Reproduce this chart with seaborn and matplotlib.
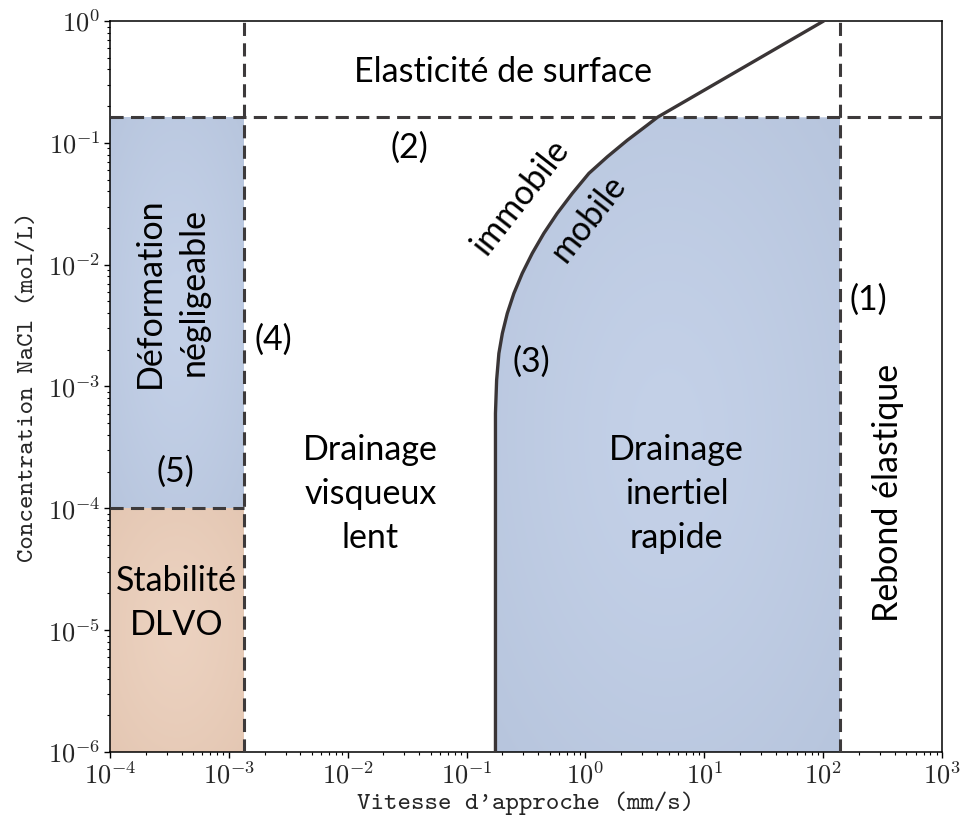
import numpy as np
import matplotlib
matplotlib.use("Agg")
import matplotlib.pyplot as plt
from matplotlib.patches import Polygon
from matplotlib.ticker import FixedLocator, FuncFormatter, NullFormatter
import seaborn as sns
import pandas as pd

# Regime boundaries (speed in mm/s, concentration in mol/L)
x_min, x_max = 1e-4, 1e3
y_min, y_max = 1e-6, 1e0
speed_low = 1.33e-3          # (4) negligible deformation limit
speed_high = 139.0           # (1) elastic rebound limit
conc_surface = 0.162         # (2) surface elasticity limit
conc_dlvo = 1e-4             # (5) DLVO stability limit

# (3) mobile / immobile interface boundary
boundary_speed = [0.175, 0.175, 0.179, 0.187, 0.200, 0.220, 0.250, 0.294, 0.357, 0.447,
                  0.579, 0.776, 1.07, 1.53, 2.25, 3.32, 4.03, 101.0]
boundary_conc = [1e-6, 6.0e-4, 1.13e-3, 1.87e-3, 2.73e-3, 3.98e-3, 5.81e-3, 8.49e-3, 1.24e-2, 1.81e-2,
                 2.64e-2, 3.85e-2, 5.62e-2, 7.69e-2, 0.105, 0.140, 0.162, 1.0]

# Decade ticks
x_decades = [-4, -3, -2, -1, 0, 1, 2, 3]
y_decades = [-6, -5, -4, -3, -2, -1, 0]

region_labels = {
    "surface": "Elasticité de surface",
    "deform": "Déformation\nnégligeable",
    "slow": "Drainage\nvisqueux\nlent",
    "fast": "Drainage\ninertiel\nrapide",
    "rebound": "Rebond élastique",
    "dlvo": "Stabilité\nDLVO",
}

sns.set_style("ticks")
plt.rcParams["mathtext.fontset"] = "cm"
plt.rcParams["font.family"] = ["Lato", "DejaVu Sans"]

fig = plt.figure(figsize=(9.6, 8.22), dpi=100)
ax = fig.add_axes([110 / 960, 1 - 752 / 822, 832 / 960, 731 / 822])
ax.set_xscale("log")
ax.set_yscale("log")
ax.set_xlim(x_min, x_max)
ax.set_ylim(y_min, y_max)
ax.autoscale(False)

BLUE_EDGE, BLUE_CENTER = np.array([183, 197, 221]) / 255, np.array([196, 209, 232]) / 255
ORANGE_EDGE, ORANGE_CENTER = np.array([228, 199, 179]) / 255, np.array([236, 210, 192]) / 255


def shaded_region(verts, edge, center):
    """Fill a polygon (data coords) with a soft radial shading."""
    patch = Polygon(verts, closed=True, transform=ax.transData,
                    facecolor="none", edgecolor="none")
    ax.add_patch(patch)
    pts = ax.transAxes.inverted().transform(ax.transData.transform(np.array(verts)))
    x0, y0 = pts.min(axis=0)
    x1, y1 = pts.max(axis=0)
    n = 200
    u, v = np.meshgrid(np.linspace(-1, 1, n), np.linspace(-1, 1, n))
    r = np.clip(np.sqrt(u ** 2 + v ** 2) / np.sqrt(2), 0, 1)
    w = (1 - r ** 1.3)[..., None]
    img = edge[None, None, :] * (1 - w) + center[None, None, :] * w
    im = ax.imshow(img, extent=(x0, x1, y0, y1), transform=ax.transAxes,
                   origin="lower", aspect="auto", zorder=1, interpolation="bilinear")
    im.set_clip_path(patch)


# Left column: negligible deformation (blue) and DLVO stability (orange)
shaded_region([(x_min, conc_dlvo), (speed_low, conc_dlvo), (speed_low, conc_surface), (x_min, conc_surface)],
              BLUE_EDGE, BLUE_CENTER)
shaded_region([(x_min, y_min), (speed_low, y_min), (speed_low, conc_dlvo), (x_min, conc_dlvo)],
              ORANGE_EDGE, ORANGE_CENTER)

# Fast inertial drainage: right of the boundary curve, below surface elasticity
fast_verts = [(s, c) for s, c in zip(boundary_speed, boundary_conc) if c <= conc_surface]
fast_verts += [(speed_high, conc_surface), (speed_high, y_min)]
shaded_region(fast_verts, BLUE_EDGE, BLUE_CENTER)

# Dashed regime limits
dash_kw = dict(color="#3d3a3b", lw=2.2, linestyle=(0, (4.3, 2.4)), zorder=3)
ax.plot([speed_low, speed_low], [y_min, y_max], **dash_kw)
ax.plot([speed_high, speed_high], [y_min, y_max], **dash_kw)
ax.plot([x_min, x_max], [conc_surface, conc_surface], **dash_kw)
ax.plot([x_min, speed_low], [conc_dlvo, conc_dlvo], **dash_kw)

# Mobile / immobile boundary
df = pd.DataFrame({"speed": boundary_speed, "conc": boundary_conc})
sns.lineplot(data=df, x="speed", y="conc", sort=False, estimator=None,
             color="#3a3536", lw=2.4, ax=ax, zorder=4)

# Annotations
tk = dict(fontsize=24.5, color="black", ha="center", va="center", transform=ax.transAxes, zorder=5)
ml = dict(multialignment="center", linespacing=1.45)
ax.text(0.472, 0.930, region_labels["surface"], **tk)
ax.text(0.0745, 0.629, region_labels["deform"], rotation=90, **ml, **tk)
ax.text(0.313, 0.353, region_labels["slow"], **ml, **tk)
ax.text(0.681, 0.353, region_labels["fast"], **ml, **tk)
ax.text(0.935, 0.354, region_labels["rebound"], rotation=90, **tk)
ax.text(0.080, 0.204, region_labels["dlvo"], **ml, **tk)
ax.text(0.493, 0.759, "immobile", rotation=52, **tk)
ax.text(0.575, 0.730, "mobile", rotation=52, **tk)
ax.text(0.912, 0.618, "(1)", **tk)
ax.text(0.360, 0.826, "(2)", **tk)
ax.text(0.506, 0.534, "(3)", **tk)
ax.text(0.196, 0.564, "(4)", **tk)
ax.text(0.078, 0.383, "(5)", **tk)

# Axes styling
decade_fmt = FuncFormatter(lambda v, pos: r"$10^{%d}$" % int(round(np.log10(v))))
for axis, decades in ((ax.xaxis, x_decades), (ax.yaxis, y_decades)):
    majors = [10.0 ** d for d in decades]
    minors = [m * 10.0 ** d for d in decades[:-1] for m in range(2, 10)]
    axis.set_major_locator(FixedLocator(majors))
    axis.set_minor_locator(FixedLocator(minors))
    axis.set_major_formatter(decade_fmt)
    axis.set_minor_formatter(NullFormatter())
ax.tick_params(which="major", direction="out", length=4, width=1.0, labelsize=19, color="black", pad=3)
ax.tick_params(which="minor", direction="out", length=2.2, width=0.8, color="black")
for sp in ax.spines.values():
    sp.set_visible(True)
    sp.set_color("black")
    sp.set_linewidth(1.1)

ax.set_xlabel("Vitesse d'approche (mm/s)", fontfamily="cmtt10", fontsize=18.5, labelpad=2)
ax.set_ylabel("Concentration NaCl (mol/L)", fontfamily="cmtt10", fontsize=18.5, labelpad=6)

fig.savefig("out.png", dpi=100)
